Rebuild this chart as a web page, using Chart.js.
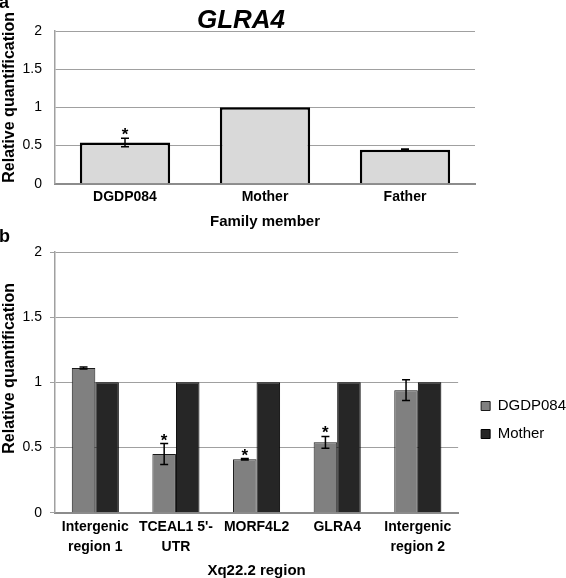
<!DOCTYPE html>
<html>
<head>
<meta charset="utf-8">
<script src="https://cdn.jsdelivr.net/npm/chart.js@4.4.1/dist/chart.umd.min.js"></script>
<style>
  body { margin: 0; background: #fff; }
  #wrap { position: relative; width: 566px; height: 578px; overflow: hidden; }
  #chartA { position: absolute; left: 0; top: 0; }
  #chartB { position: absolute; left: 0; top: 226px; }
</style>
</head>
<body>
<div id="wrap">
  <canvas id="chartA" width="566" height="232"></canvas>
  <canvas id="chartB" width="566" height="352"></canvas>
</div>
<script>
// Panel a: GLRA4 in the family
const familyMembers = ['DGDP084', 'Mother', 'Father'];
const familyRQ = [0.54, 1.0, 0.445];
const familyErr = [0.055, 0, 0.008];
const familySig = [true, false, false];

// Panel b: Xq22.2 region, proband vs mother
const regions = [['Intergenic', 'region 1'], ["TCEAL1 5'-", 'UTR'], ['MORF4L2'], ['GLRA4'], ['Intergenic', 'region 2']];
const probandRQ = [1.11, 0.45, 0.41, 0.54, 0.94];
const probandErr = [0.008, 0.08, 0.005, 0.045, 0.08];
const probandSig = [false, true, true, true, false];
const motherRQ = [1, 1, 1, 1, 1];

const yTicks = [0, 0.5, 1, 1.5, 2];
const yTitle = 'Relative quantification';

const FONT = "'Liberation Sans', Arial, Helvetica, sans-serif";
Chart.defaults.font.family = FONT;
Chart.defaults.color = '#000';

// error bars + significance stars, read from dataset.errors / dataset.signif
const errorBars = {
    id: 'errorBars',
    afterDatasetsDraw(chart) {
        const ctx = chart.ctx;
        const y = chart.scales.y;
        ctx.save();
        ctx.strokeStyle = '#000';
        ctx.fillStyle = '#000';
        ctx.lineWidth = 1.5;
        chart.data.datasets.forEach((ds, di) => {
            if (!ds.errors) return;
            const meta = chart.getDatasetMeta(di);
            meta.data.forEach((bar, i) => {
                const v = ds.data[i];
                const e = ds.errors[i];
                const yTop = y.getPixelForValue(v + e);
                const yBot = y.getPixelForValue(v - e);
                if (e > 0) {
                    ctx.beginPath();
                    ctx.moveTo(bar.x, yTop); ctx.lineTo(bar.x, yBot);
                    ctx.moveTo(bar.x - 4, yTop); ctx.lineTo(bar.x + 4, yTop);
                    ctx.moveTo(bar.x - 4, yBot); ctx.lineTo(bar.x + 4, yBot);
                    ctx.stroke();
                }
                if (ds.signif && ds.signif[i]) {
                    ctx.font = 'bold 17px ' + FONT;
                    ctx.textAlign = 'center';
                    ctx.textBaseline = 'alphabetic';
                    ctx.fillText('*', bar.x, yTop + 2);
                }
            });
        });
        ctx.restore();
    }
};

// panel letter, heading and the y title (sits a little above the axis middle, like the original)
function panelText(letter, letterY, heading, titleShift) {
    return {
        id: 'panelText',
        afterDraw(chart) {
            const ctx = chart.ctx;
            const ca = chart.chartArea;
            ctx.save();
            ctx.fillStyle = '#000';
            ctx.textBaseline = 'alphabetic';
            ctx.textAlign = 'left';
            ctx.font = 'bold 18px ' + FONT;
            ctx.fillText(letter, -1, letterY);
            if (heading) {
                ctx.font = 'italic bold 26px ' + FONT;
                ctx.textAlign = 'center';
                ctx.fillText(heading, 241, 28);
            }
            ctx.translate(10, (ca.top + ca.bottom) / 2 - titleShift);
            ctx.rotate(-Math.PI / 2);
            ctx.font = 'bold 16px ' + FONT;
            ctx.textAlign = 'center';
            ctx.textBaseline = 'middle';
            ctx.fillText(yTitle, 0, 0);
            ctx.restore();
        }
    };
}

// move the legend a bit to sit where the original one is
const legendNudge = {
    id: 'legendNudge',
    afterLayout(chart) {
        const lg = chart.legend;
        if (!lg) return;
        lg.left += 10; lg.right += 10;
        lg.top += 5; lg.bottom += 5;
    }
};

function yScale(width, withTicks) {
    return {
        min: 0,
        max: 2,
        afterBuildTicks: s => { s.ticks = yTicks.map(v => ({ value: v })); },
        grid: { color: '#a0a0a0', lineWidth: 1, drawTicks: withTicks, tickLength: 5 },
        border: { display: true, color: '#a0a0a0', width: 1.5 },
        ticks: { padding: withTicks ? 8 : 13, font: { size: 14 }, color: '#000', callback: v => String(v) },
        afterFit: s => { s.width = width; }
    };
}

new Chart(document.getElementById('chartA'), {
    type: 'bar',
    data: {
        labels: familyMembers,
        datasets: [{
            label: 'GLRA4',
            data: familyRQ,
            errors: familyErr,
            signif: familySig,
            backgroundColor: '#d9d9d9',
            borderColor: '#000',
            borderWidth: 2.5,
            barPercentage: 0.645,
            categoryPercentage: 1
        }]
    },
    options: {
        responsive: false,
        animation: false,
        layout: { padding: { top: 31, right: 91, left: 0, bottom: 0 } },
        plugins: { legend: { display: false }, tooltip: { enabled: false } },
        scales: {
            x: {
                grid: { display: false, drawTicks: false },
                border: { display: true, color: '#8c8c8c', width: 2 },
                ticks: { padding: 5, font: { size: 14, weight: 'bold' }, color: '#000', autoSkip: false, maxRotation: 0 },
                title: { display: true, text: 'Family member', font: { size: 15, weight: 'bold' }, padding: { top: 0, bottom: 1 } },
                afterFit: s => { s.height = 48.3; }
            },
            y: yScale(55, false)
        }
    },
    plugins: [errorBars, panelText('a', 8, 'GLRA4', 10)]
});

new Chart(document.getElementById('chartB'), {
    type: 'bar',
    data: {
        labels: regions,
        datasets: [{
            label: 'DGDP084',
            data: probandRQ,
            errors: probandErr,
            signif: probandSig,
            backgroundColor: '#808080',
            borderColor: '#1a1a1a',
            borderWidth: 1
        }, {
            label: 'Mother',
            data: motherRQ,
            backgroundColor: '#262626',
            borderColor: '#000',
            borderWidth: 1
        }]
    },
    options: {
        responsive: false,
        animation: false,
        datasets: { bar: { barPercentage: 1, categoryPercentage: 0.584 } },
        layout: { padding: { top: 26, right: 0, left: 0, bottom: 0 } },
        plugins: {
            tooltip: { enabled: false },
            legend: {
                position: 'right',
                labels: { boxWidth: 9, boxHeight: 9, padding: 13, font: { size: 15 }, color: '#000' }
            }
        },
        scales: {
            x: {
                grid: { display: false, drawTicks: false },
                border: { display: true, color: '#8c8c8c', width: 2 },
                ticks: { padding: 4, font: { size: 14, weight: 'bold', lineHeight: 1.43 }, color: '#000', autoSkip: false, maxRotation: 0 },
                title: { display: true, text: 'Xq22.2 region', font: { size: 15, weight: 'bold', lineHeight: 1.0 }, padding: { top: 0, bottom: 0 } },
                afterFit: s => { s.height = 65.3; }
            },
            y: yScale(55, true)
        }
    },
    plugins: [errorBars, legendNudge, panelText('b', 16, null, 14)]
});
</script>
</body>
</html>
